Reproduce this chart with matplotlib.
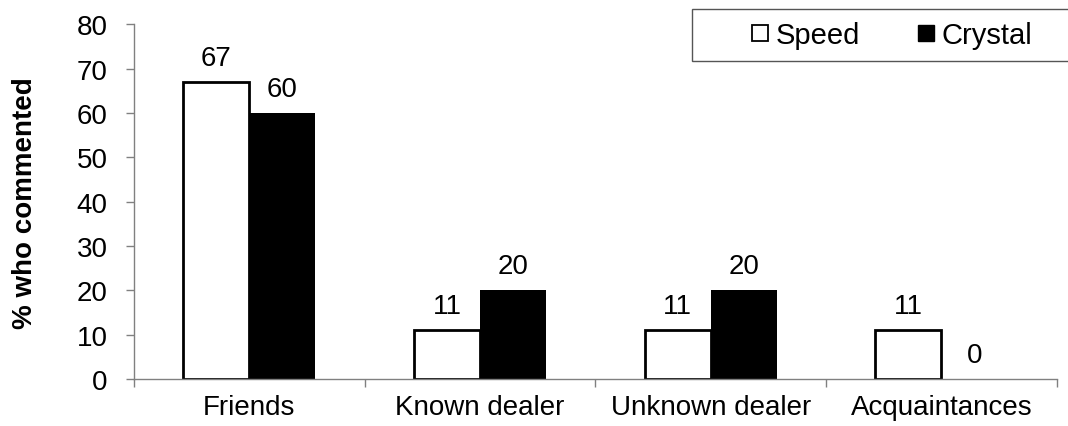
import numpy as np
import matplotlib
matplotlib.use("Agg")
import matplotlib.pyplot as plt
from matplotlib.lines import Line2D
from matplotlib.patches import Rectangle

plt.rcParams['font.family'] = ['Liberation Sans', 'DejaVu Sans']

categories = ['Friends', 'Known dealer', 'Unknown dealer', 'Acquaintances']
speed = [67, 11, 11, 11]
crystal = [60, 20, 20, 0]

FS = 20

fig = plt.figure(figsize=(10.68, 4.27), dpi=100)
ax = fig.add_axes([0.1255, 0.110, 0.864, 0.8305])

x = np.arange(len(categories))
w = 0.286
b1 = ax.bar(x - w / 2, speed, w, color='white', edgecolor='black', linewidth=2)
b2 = ax.bar(x + w / 2, crystal, w, color='black', edgecolor='none')

for bars, vals in ((b1, speed), (b2, crystal)):
    for rect, v in zip(bars, vals):
        ax.annotate(f"{v}", (rect.get_x() + rect.get_width() / 2, v),
                    xytext=(0, 8), textcoords='offset points',
                    ha='center', va='bottom', fontsize=FS)

ax.set_xlim(-0.5, len(categories) - 0.5)
ax.set_ylim(0, 80)
ax.set_yticks(range(0, 81, 10))
ax.tick_params(axis='y', labelsize=FS, length=6, width=1, color='#808080',
               direction='out', pad=13)

# category labels centred, tick marks at the boundaries
ax.set_xticks(x)
ax.set_xticklabels(categories, fontsize=FS)
ax.tick_params(axis='x', which='major', length=0, pad=11)
ax.set_xticks(np.arange(-0.5, len(categories)), minor=True)
ax.tick_params(axis='x', which='minor', length=6, width=1, color='#808080', direction='out')

for s in ('top', 'right'):
    ax.spines[s].set_visible(False)
for s in ('left', 'bottom'):
    ax.spines[s].set_color('#808080')
    ax.spines[s].set_linewidth(1)

ax.set_ylabel('% who commented', fontsize=FS, fontweight='bold', labelpad=28)

# legend box runs off the right edge of the figure
fig.add_artist(Rectangle((692 / 1068, 1 - 62 / 427), 400 / 1068, 52 / 427,
                         transform=fig.transFigure, facecolor='white',
                         edgecolor='#555555', linewidth=1, clip_on=False))
handles = [
    Line2D([], [], marker='s', linestyle='none', markersize=11,
           markerfacecolor='white', markeredgecolor='black', markeredgewidth=1.3),
    Line2D([], [], marker='s', linestyle='none', markersize=11,
           markerfacecolor='black', markeredgecolor='black'),
]
fig.legend(handles, ['Speed', 'Crystal'], loc='center left',
           bbox_to_anchor=(745 / 1068, 1 - 36 / 427), ncol=2,
           fontsize=21, frameon=False, handletextpad=0.05,
           columnspacing=1.75, handlelength=1.0, borderpad=0, borderaxespad=0)

fig.savefig('out.png', dpi=100)
